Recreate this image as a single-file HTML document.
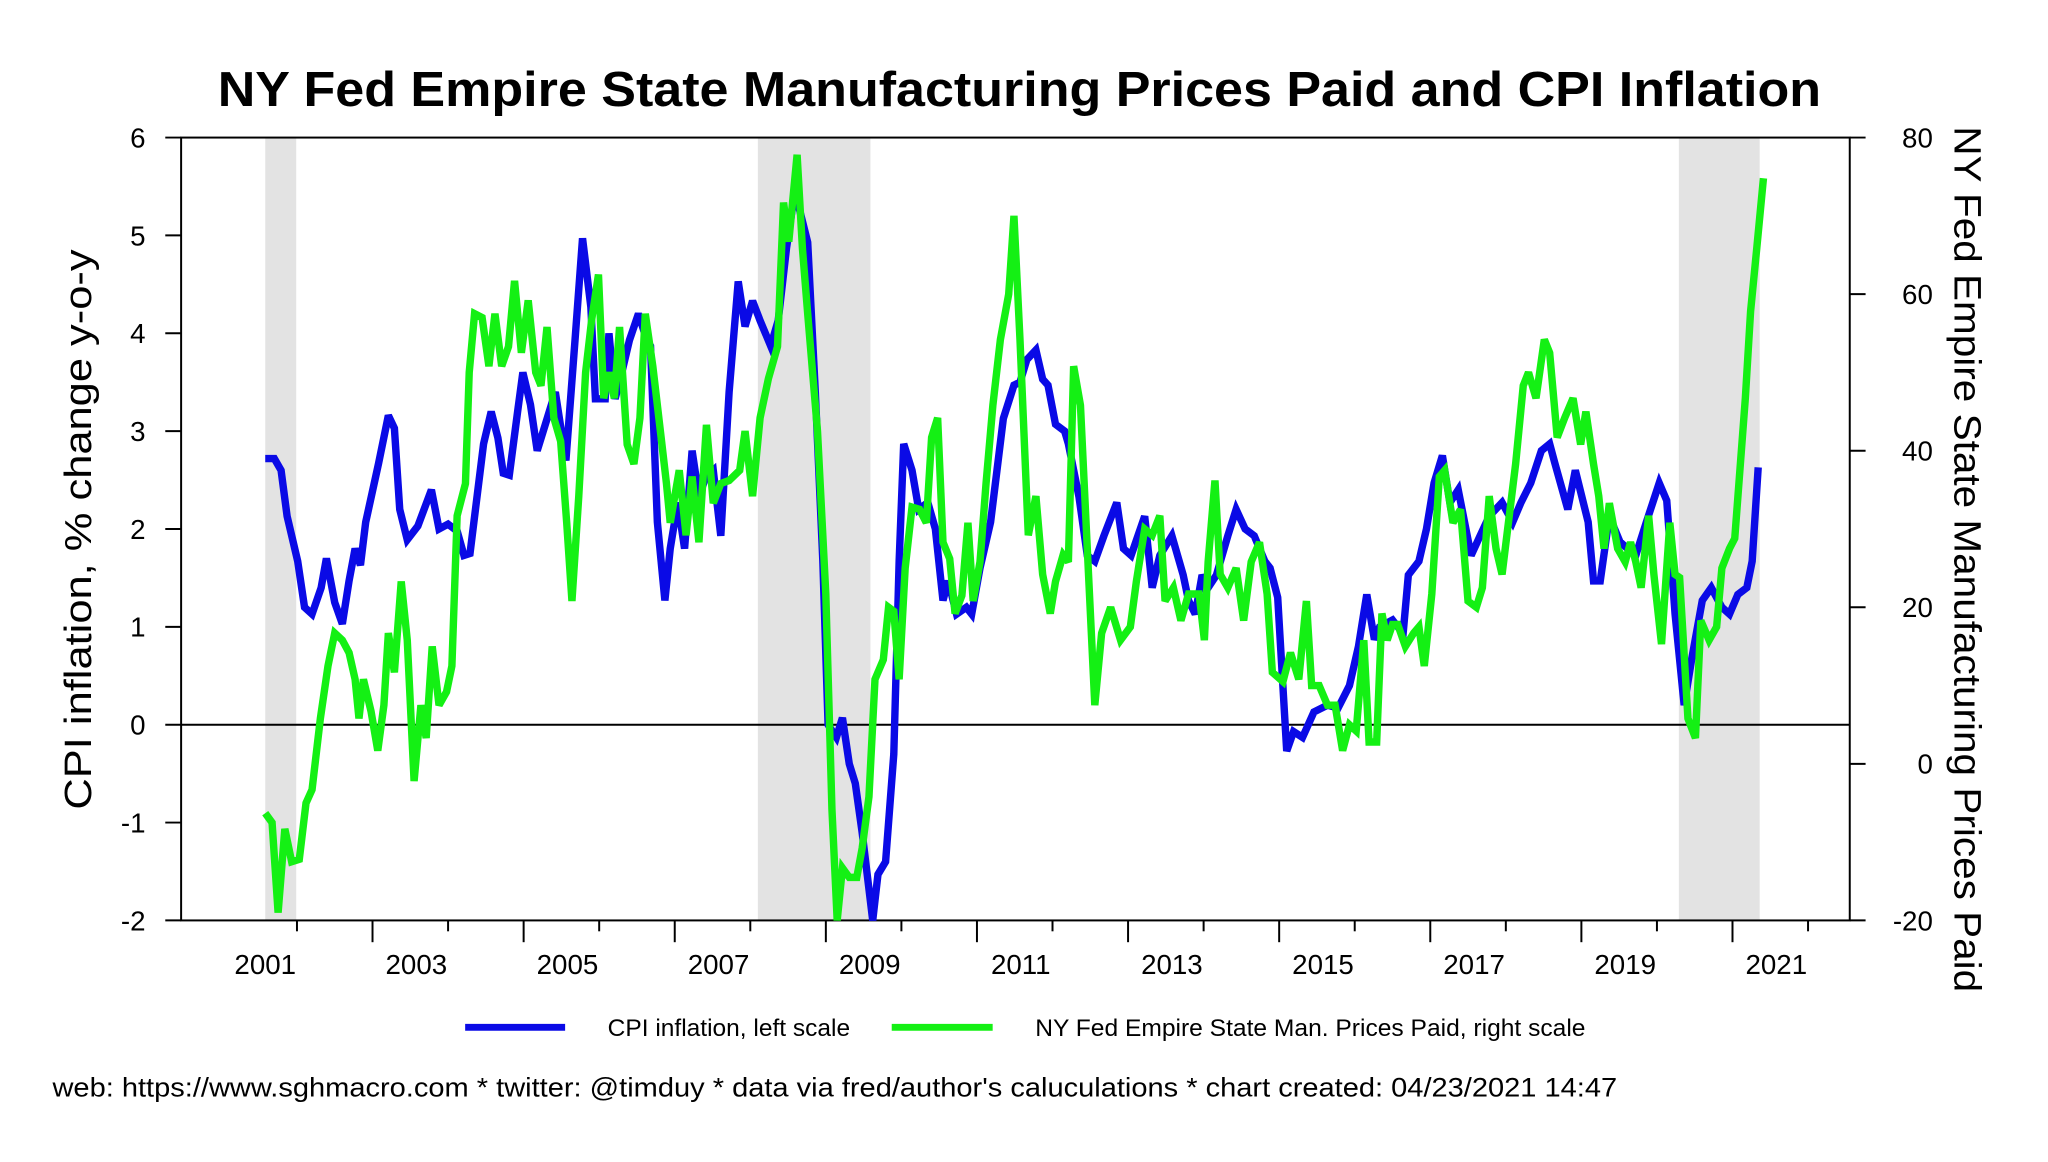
<!DOCTYPE html>
<html><head><meta charset="utf-8">
<style>
html,body{margin:0;padding:0;background:#fff;}
svg{display:block;font-family:"Liberation Sans",Arial,sans-serif;}
</style></head>
<body>
<svg id="chart" width="2048" height="1162" viewBox="0 0 2048 1162" xmlns="http://www.w3.org/2000/svg">
<rect x="0" y="0" width="2048" height="1162" fill="#fff"/>
<g transform="scale(0.9897)">
<text x="1030" y="107" font-size="50" font-weight="bold" text-anchor="middle" textLength="1620" lengthAdjust="spacingAndGlyphs">NY Fed Empire State Manufacturing Prices Paid and CPI Inflation</text>
<g id="shades"></g>
<g id="axes"></g>
<g id="series"></g>
<text transform="translate(92,535) rotate(-90)" font-size="38" text-anchor="middle" textLength="566" lengthAdjust="spacingAndGlyphs">CPI inflation, % change y-o-y</text>
<text transform="translate(1975,565) rotate(90)" font-size="38" text-anchor="middle" textLength="875" lengthAdjust="spacingAndGlyphs">NY Fed Empire State Manufacturing Prices Paid</text>
<g>
<line x1="470" y1="1038" x2="571" y2="1038" stroke="#0a0ae6" stroke-width="7"/>
<text x="614" y="1047" font-size="24" textLength="245" lengthAdjust="spacingAndGlyphs">CPI inflation, left scale</text>
<line x1="901" y1="1038" x2="1003" y2="1038" stroke="#14f014" stroke-width="7"/>
<text x="1046" y="1047" font-size="24" textLength="556" lengthAdjust="spacingAndGlyphs">NY Fed Empire State Man. Prices Paid, right scale</text>
</g>
<text x="53" y="1108" font-size="27" textLength="1581" lengthAdjust="spacingAndGlyphs">web: https://www.sghmacro.com * twitter: @timduy * data via fred/author's caluculations * chart created: 04/23/2021 14:47</text>
</g>
</svg>
<script>
// years since July 2001
const cpiYears=[0,.12,.21,.29,.43,.52,.62,.74,.81,.92,1.02,1.11,1.19,1.26,1.33,1.50,1.63,1.71,1.78,1.88,2.02,2.20,2.30,2.42,2.54,2.63,2.71,2.89,2.99,3.08,3.15,3.23,3.34,3.41,3.51,3.60,3.68,3.84,3.98,4.10,4.20,4.31,4.37,4.50,4.55,4.63,4.72,4.82,4.94,5.05,5.10,5.19,5.29,5.36,5.46,5.55,5.65,5.74,5.83,5.93,6.03,6.14,6.26,6.35,6.45,6.55,6.69,6.79,6.90,7.00,7.07,7.18,7.28,7.38,7.45,7.56,7.64,7.73,7.81,7.90,8.04,8.11,8.21,8.32,8.39,8.45,8.56,8.65,8.77,8.87,8.97,9.04,9.15,9.28,9.35,9.46,9.60,9.77,9.91,9.99,10.08,10.20,10.29,10.36,10.46,10.58,10.63,10.77,10.88,10.98,11.10,11.27,11.36,11.46,11.64,11.74,11.84,12.00,12.15,12.22,12.31,12.40,12.48,12.59,12.74,12.85,12.97,13.09,13.23,13.30,13.40,13.52,13.61,13.73,13.88,14.06,14.20,14.35,14.47,14.58,14.68,14.75,14.92,15.06,15.13,15.27,15.37,15.47,15.58,15.68,15.79,15.96,16.08,16.20,16.37,16.51,16.62,16.75,16.89,17.00,17.07,17.24,17.34,17.51,17.58,17.67,17.79,17.93,18.03,18.14,18.28,18.45,18.55,18.66,18.78,18.88,19.02,19.14,19.28,19.38,19.49,19.61,19.68,19.76];
const cpiValues=[2.72,2.72,2.6,2.13,1.67,1.2,1.13,1.4,1.7,1.25,1.03,1.47,1.8,1.63,2.07,2.67,3.16,3.03,2.2,1.89,2.03,2.4,2.0,2.05,1.98,1.73,1.75,2.87,3.2,2.93,2.57,2.55,3.2,3.6,3.27,2.8,3.0,3.4,2.7,3.93,4.97,4.27,3.33,3.33,4.0,3.33,3.6,3.93,4.2,3.93,3.87,2.07,1.27,1.8,2.27,1.8,2.8,2.33,2.53,2.6,1.93,3.4,4.53,4.07,4.33,4.13,3.87,4.13,4.87,5.4,5.27,4.93,3.4,1.67,0,-0.13,0.07,-0.4,-0.6,-1.1,-2.0,-1.53,-1.4,-0.3,1.67,2.87,2.6,2.2,2.27,2.0,1.27,1.47,1.13,1.2,1.13,1.6,2.07,3.13,3.47,3.5,3.73,3.83,3.53,3.47,3.07,3.0,2.87,2.33,1.73,1.67,1.93,2.27,1.8,1.73,2.13,1.4,1.73,1.93,1.53,1.27,1.13,1.53,1.4,1.53,1.93,2.2,2.0,1.93,1.67,1.6,1.3,-0.27,-0.07,-0.13,0.13,0.2,0.17,0.4,0.8,1.33,0.87,1.0,1.07,0.93,1.53,1.67,2.0,2.47,2.75,2.27,2.4,1.73,1.93,2.13,2.27,2.07,2.27,2.47,2.8,2.87,2.67,2.2,2.6,2.07,1.47,1.47,2.13,1.87,1.8,1.73,2.07,2.47,2.29,1.13,0.2,0.67,1.27,1.4,1.2,1.13,1.33,1.4,1.67,2.63];
const ppYears=[0,.09,.17,.26,.35,.45,.54,.62,.73,.83,.92,1.02,1.11,1.19,1.24,1.30,1.40,1.49,1.57,1.63,1.71,1.80,1.88,1.97,2.06,2.13,2.21,2.30,2.40,2.47,2.54,2.65,2.70,2.77,2.87,2.96,3.04,3.13,3.22,3.30,3.39,3.48,3.58,3.65,3.73,3.82,3.91,3.99,4.06,4.15,4.24,4.32,4.41,4.48,4.55,4.62,4.69,4.79,4.88,4.96,5.03,5.13,5.24,5.31,5.36,5.48,5.57,5.65,5.74,5.84,5.93,6.03,6.14,6.28,6.35,6.45,6.55,6.66,6.78,6.86,6.93,7.04,7.11,7.18,7.31,7.42,7.50,7.57,7.64,7.73,7.83,7.90,7.99,8.07,8.18,8.25,8.32,8.39,8.47,8.56,8.66,8.75,8.82,8.90,8.97,9.06,9.13,9.22,9.30,9.37,9.46,9.54,9.63,9.73,9.84,9.91,9.99,10.10,10.20,10.29,10.39,10.46,10.56,10.63,10.70,10.79,10.88,10.98,11.07,11.19,11.32,11.45,11.53,11.64,11.74,11.84,11.91,12.02,12.12,12.22,12.36,12.43,12.48,12.57,12.64,12.74,12.85,12.95,13.05,13.16,13.26,13.33,13.47,13.57,13.68,13.78,13.85,13.95,14.06,14.16,14.26,14.35,14.44,14.54,14.61,14.71,14.78,14.85,14.92,14.99,15.09,15.20,15.27,15.34,15.44,15.54,15.61,15.72,15.82,15.92,16.03,16.11,16.20,16.29,16.37,16.55,16.65,16.72,16.82,16.93,17.00,17.10,17.20,17.31,17.41,17.48,17.58,17.65,17.72,17.79,17.90,18.00,18.07,18.14,18.21,18.31,18.38,18.48,18.59,18.66,18.72,18.83,18.93,19.00,19.11,19.21,19.28,19.38,19.45,19.59,19.66,19.74,19.83];
const ppValues=[-6.3,-7.5,-19,-8.3,-12.5,-12.2,-5,-3.3,5.8,12.5,16.7,15.8,14.2,10.8,5.8,10.8,6.7,1.7,7.5,16.7,11.7,23.3,15.8,-2.2,7.5,3.3,15,7.5,9.2,12.5,31.7,35.8,50,57.5,57,50.8,57.5,50.8,53.3,61.7,52.5,59.2,50,48.3,55.8,44.2,41.2,30.8,20.8,34.2,50,56.7,62.5,46.7,50,46.7,55.8,40.8,38.3,44.2,57.5,50.8,41.7,35.8,30.8,37.5,29.2,36.7,28.3,43.3,33.3,35.8,36.2,37.5,42.5,34.2,44.2,49.2,53.3,71.7,66.7,77.8,65.8,57.5,42.5,21.7,-5.8,-20,-13.3,-14.5,-14.5,-10.8,-4.2,10.8,13.3,20,19.5,10.8,25,32.8,32.5,30.8,41.7,44.2,28.3,26.2,19.2,21.5,30.8,20.8,25.8,35.8,45.8,54.2,60,70,54.2,29.2,34.2,24.2,19.2,23.3,26.7,25.8,50.8,45.8,27.5,7.5,16.7,20,15.8,17.5,23.3,30,29.2,31.7,20.8,22.5,18.3,21.7,21.7,15.8,25.8,36.2,24.2,22.5,25,18.3,25.8,28.3,21.7,11.7,10.5,14.2,10.8,20.8,10,10,7.5,7.5,1.7,5,4.2,15.8,2.8,2.8,19.2,15.8,17.8,17.8,15,16.7,17.5,12.5,21.7,36.7,37.5,30.8,32.5,20.8,20,22.5,34.2,27.5,24.2,38.3,48.3,50,46.7,54.2,52.5,41.7,44.2,46.7,40.8,45,38.3,34.2,27.5,33.3,27.5,25.8,28.3,25.8,22.5,31.7,24.2,15.3,30.8,24.2,23.8,5.8,3.3,18.3,15.8,17.5,25,27.5,28.8,46.7,57.8,65.8,74.8];
const shadeStarts=[0,6.52,18.71];
const shadeEnds=[0.41,8.01,19.78];
const leftTicks=[-2,-1,0,1,2,3,4,5,6];
const rightTicks=[-20,0,20,40,60,80];
const yearLabels=["2001","2003","2005","2007","2009","2011","2013","2015","2017","2019","2021"];

const NS="http://www.w3.org/2000/svg";
const L=183,R=1869,T=139,B=930;
const xs=t=>268+t*76.34;
const yl=v=>B-(v+2)*(B-T)/8;
const yr=v=>B-(v+20)*(B-T)/100;
function mk(tag,attrs,parent){const e=document.createElementNS(NS,tag);for(const k in attrs)e.setAttribute(k,attrs[k]);parent.appendChild(e);return e;}
const shades=document.getElementById('shades'),axes=document.getElementById('axes'),series=document.getElementById('series');

shadeStarts.forEach((s,i)=>{
  const r=mk('rect',{x:xs(s),y:T,width:xs(shadeEnds[i])-xs(s),height:B-T,fill:'#e3e3e3'},shades);
  
  
});

const fr=mk('rect',{x:L,y:T,width:R-L,height:B-T,fill:'none',stroke:'#000','stroke-width':2},axes);


const zl=mk('line',{x1:L,x2:R,y1:yl(0),y2:yl(0),stroke:'#000','stroke-width':2},axes);



leftTicks.forEach(v=>{
  const t=mk('line',{x1:L-16,x2:L,y1:yl(v),y2:yl(v),stroke:'#000','stroke-width':2},axes);
  
  
  const tx=mk('text',{x:L-36,y:yl(v)+10,'font-size':28,'text-anchor':'end'},axes);
  tx.textContent=v;
  
  
});
rightTicks.forEach(v=>{
  const t=mk('line',{x1:R,x2:R+16,y1:yr(v),y2:yr(v),stroke:'#000','stroke-width':2},axes);
  
  
  const tx=mk('text',{x:1953,y:yr(v)+10,'font-size':28,'text-anchor':'end'},axes);
  tx.textContent=v;
  
  
});
for(let k=0;k<21;k++){
  const x=xs(0.42+k);
  const t=mk('line',{x1:x,x2:x,y1:B,y2:B+(k%2===1?22:11),stroke:'#000','stroke-width':2},axes);
  
  
}
yearLabels.forEach((s,i)=>{
  const tx=mk('text',{x:xs(i*2),y:984,'font-size':28,'text-anchor':'middle'},axes);
  tx.textContent=s;
  
  
});

function path(xsArr,vals,yf){
  const n=Math.min(xsArr.length,vals.length);let d='';
  for(let i=0;i<n;i++)d+=(i?'L':'M')+xs(xsArr[i]).toFixed(1)+' '+yf(vals[i]).toFixed(1);
  return d;
}
const pp=mk('path',{d:path(ppYears,ppValues,yr),fill:'none',stroke:'#14f014','stroke-width':7.5,'stroke-linejoin':'miter','stroke-miterlimit':3},series);


const cpi=mk('path',{d:path(cpiYears,cpiValues,yl),fill:'none',stroke:'#0a0ae6','stroke-width':7.5,'stroke-linejoin':'miter','stroke-miterlimit':3},series);


series.appendChild(pp);
</script>
</body></html>
